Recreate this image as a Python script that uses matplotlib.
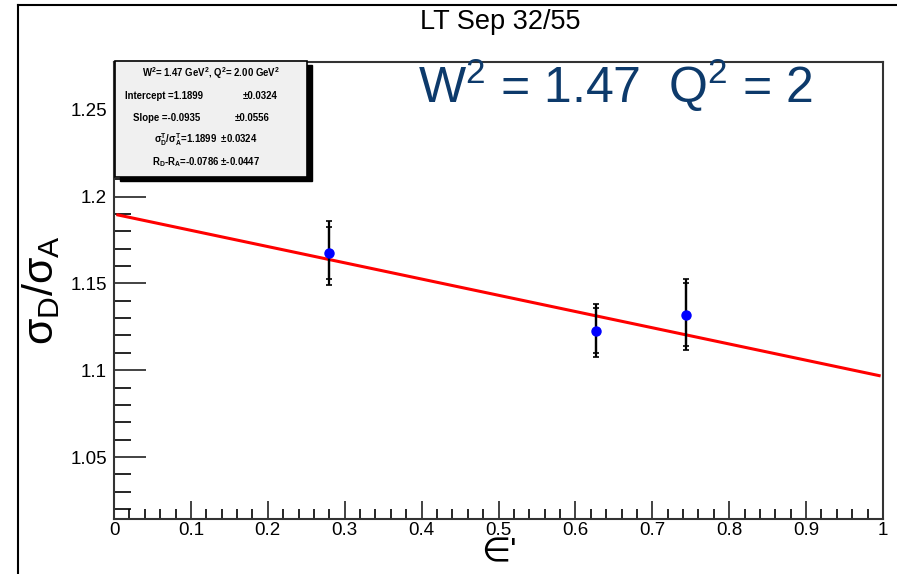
import numpy as np
import matplotlib.pyplot as plt
from matplotlib.patches import Rectangle
from matplotlib.lines import Line2D
from matplotlib.ticker import MultipleLocator

plt.rcParams['font.family'] = ['Liberation Sans', 'DejaVu Sans']
plt.rcParams['mathtext.fontset'] = 'custom'
plt.rcParams['mathtext.rm'] = 'Liberation Sans'
plt.rcParams['mathtext.it'] = 'Liberation Sans'
plt.rcParams['mathtext.bf'] = 'Liberation Sans:bold'

# ratio points vs epsilon
eps = [0.2796, 0.627, 0.744]
ratio = [1.1675, 1.1228, 1.1320]
err_stat = [0.0147, 0.0130, 0.0180]
err_tot = [0.0187, 0.0153, 0.0203]

# linear fit result
intercept = 1.1899
slope = -0.0935

W = 897
H = 574
fig = plt.figure(figsize=(W / 100, H / 100), dpi=100)


def px(x, y):
    return x / W, 1 - y / H


ax = fig.add_axes([114 / W, 1 - 519 / H, (883 - 114) / W, (519 - 62) / H])
ax.set_xlim(0, 1)
ax.set_ylim(1.0143, 1.2775)

xf = np.array([0.005, 0.995])
ax.plot(xf, intercept + slope * xf, color='red', lw=2.2, zorder=2)

ax.errorbar(eps, ratio, yerr=err_tot, fmt='none', ecolor='black',
            elinewidth=1.6, capsize=2.5, capthick=1.2, zorder=3)
ax.errorbar(eps, ratio, yerr=err_stat, fmt='none', ecolor='black',
            elinewidth=1.6, capsize=2.5, capthick=1.2, zorder=3)
ax.plot(eps, ratio, 'o', color='blue', ms=6.5, zorder=4)

ax.xaxis.set_major_locator(MultipleLocator(0.1))
ax.xaxis.set_minor_locator(MultipleLocator(0.02))
ax.yaxis.set_major_locator(MultipleLocator(0.05))
ax.yaxis.set_minor_locator(MultipleLocator(0.01))
ax.set_xticks(np.arange(0, 1.01, 0.1))
ax.set_xticklabels(['0', '0.1', '0.2', '0.3', '0.4', '0.5', '0.6', '0.7',
                    '0.8', '0.9', '1'])
ax.set_yticks([1.05, 1.1, 1.15, 1.2, 1.25])
ax.set_yticklabels(['1.05', '1.1', '1.15', '1.2', '1.25'])
ax.tick_params(axis='both', direction='in', labelsize=13.5, width=1.2,
               colors='#222222', labelcolor='black')
ax.tick_params(axis='y', which='major', length=23, pad=5)
ax.tick_params(axis='y', which='minor', length=12, width=1.2, direction='in')
ax.tick_params(axis='x', which='major', length=13, pad=2)
ax.tick_params(axis='x', which='minor', length=7, width=1.2, direction='in')
for s in ax.spines.values():
    s.set_linewidth(1.5)
    s.set_color('#333333')

ax.set_xlabel("∈'", fontsize=24, labelpad=-1)
ax.set_ylabel(r'$\sigma_D/\sigma_A$', fontsize=31, labelpad=6)

fig.text(*px(500, 22), 'LT Sep 32/55', fontsize=19.5, ha='center', va='center')
fig.text(*px(418, 103), r'W$^2$ = 1.47  Q$^2$ = 2', fontsize=36,
         color='#0d3a6b', ha='left', va='baseline')

# outer frame
fig.add_artist(Line2D([18 / W, 18 / W], [0, 1 - 5 / H], color='black', lw=1.5))
fig.add_artist(Line2D([18 / W, 1], [1 - 5 / H, 1 - 5 / H], color='black', lw=1.5))

# fit statistics box
x0, y0 = px(115, 177)
bw, bh = (307 - 115) / W, (177 - 61) / H
sx, sy = 5 / W, 4 / H
fig.add_artist(Rectangle((x0 + sx, y0 - sy), bw, bh, facecolor='black',
                         edgecolor='black', zorder=5))
fig.add_artist(Rectangle((x0, y0), bw, bh, facecolor='#f0f0f0',
                         edgecolor='black', lw=1.2, zorder=6))
fs = 6.9
fig.text(*px(211, 73), r'$\mathbf{W^2}$= 1.47 GeV$\mathbf{^2}$, $\mathbf{Q^2}$= 2.00 GeV$\mathbf{^2}$',
         fontsize=fs, weight='bold', ha='center', va='center', zorder=7)
fig.text(*px(125, 96), 'Intercept =1.1899', fontsize=fs, weight='bold',
         ha='left', va='center', zorder=7)
fig.text(*px(243, 96), '±0.0324', fontsize=fs, weight='bold',
         ha='left', va='center', zorder=7)
fig.text(*px(133, 118), 'Slope =-0.0935', fontsize=fs, weight='bold',
         ha='left', va='center', zorder=7)
fig.text(*px(235, 118), '±0.0556', fontsize=fs, weight='bold',
         ha='left', va='center', zorder=7)
fig.text(*px(206, 140), r'$\mathbf{\sigma^T_D/\sigma^T_A}$=1.1899  ±0.0324',
         fontsize=fs, weight='bold', ha='center', va='center', zorder=7)
fig.text(*px(206, 162), r'$\mathbf{R_D}$-$\mathbf{R_A}$=-0.0786 ±-0.0447',
         fontsize=fs, weight='bold', ha='center', va='center', zorder=7)

fig.savefig('out.png', dpi=100)
